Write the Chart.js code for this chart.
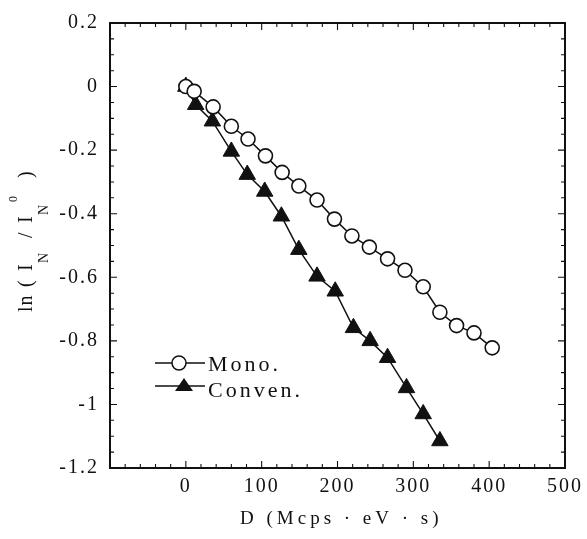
<!DOCTYPE html>
<html>
<head>
<meta charset="utf-8">
<script src="https://cdn.jsdelivr.net/npm/chart.js@4"></script>
<style>
  html, body { margin: 0; padding: 0; background: #fff; }
  #wrap { width: 587px; height: 539px; }
</style>
</head>
<body>
<div id="wrap"><canvas id="chart"></canvas></div>
<script>
// values
const monoX = [0, 11, 36, 60, 82, 105, 127, 149, 173, 196, 219, 242, 266, 289, 313, 335, 357, 380, 404];
const monoY = [0, -0.015, -0.064, -0.125, -0.165, -0.218, -0.27, -0.313, -0.357, -0.417, -0.47, -0.505, -0.542, -0.578, -0.63, -0.71, -0.752, -0.775, -0.822];
const convX = [0, 13, 35, 60, 81, 104, 126, 149, 173, 197, 221, 243, 266, 291, 313, 335];
const convY = [0, -0.057, -0.109, -0.204, -0.277, -0.33, -0.408, -0.513, -0.597, -0.644, -0.759, -0.80, -0.853, -0.948, -1.03, -1.115];
const seriesNames = ['Mono.', 'Conven.'];
const xTitle = 'D (Mcps \u00b7 eV \u00b7 s)';

const serif = '"Liberation Serif", "DejaVu Serif", serif';

function toPoints(xs, ys) {
    return xs.map((x, i) => ({ x: x, y: ys[i] }));
}

// the scan has loosely spaced type, so spread the tick labels a bit
const spacingPlugin = {
    id: 'spacing',
    beforeDraw(chart) { chart.ctx.letterSpacing = '2px'; },
    afterDraw(chart) { chart.ctx.letterSpacing = '0px'; }
};

// frame with inward ticks on all four sides
const framePlugin = {
    id: 'frame',
    afterDraw(chart) {
        const { ctx, chartArea: { left, right, top, bottom }, scales: { x, y } } = chart;
        ctx.save();
        ctx.strokeStyle = '#111';
        ctx.lineWidth = 2;
        ctx.strokeRect(left, top, right - left, bottom - top);
        ctx.lineWidth = 1.1;
        ctx.beginPath();
        for (let i = 0; i <= 30; i++) {
            const px = x.getPixelForValue(-100 + i * 20);
            const len = i % 5 === 0 ? 7 : 4;
            ctx.moveTo(px, bottom); ctx.lineTo(px, bottom - len);
            ctx.moveTo(px, top); ctx.lineTo(px, top + len);
        }
        for (let i = 0; i <= 28; i++) {
            const py = y.getPixelForValue(-1.2 + i * 0.05);
            const len = i % 4 === 0 ? 7 : 4;
            ctx.moveTo(left, py); ctx.lineTo(left + len, py);
            ctx.moveTo(right, py); ctx.lineTo(right - len, py);
        }
        ctx.stroke();
        ctx.restore();
    }
};

// legend inside the plot, x title and rotated y title with sub/superscripts
const textPlugin = {
    id: 'texts',
    afterDraw(chart) {
        const ctx = chart.ctx;
        ctx.save();
        ctx.strokeStyle = '#111';
        ctx.fillStyle = '#111';
        ctx.lineWidth = 1.5;
        ctx.textBaseline = 'alphabetic';
        ctx.textAlign = 'left';

        // legend: Mono.
        ctx.beginPath(); ctx.moveTo(155, 363); ctx.lineTo(205, 363); ctx.stroke();
        ctx.beginPath(); ctx.arc(179, 363, 7, 0, Math.PI * 2);
        ctx.fillStyle = '#fff'; ctx.fill(); ctx.stroke();
        ctx.fillStyle = '#111';
        ctx.font = '22px ' + serif;
        ctx.letterSpacing = '3px';
        ctx.fillText(seriesNames[0], 208, 371);

        // legend: Conven.
        ctx.beginPath(); ctx.moveTo(155, 386); ctx.lineTo(205, 386); ctx.stroke();
        ctx.beginPath();
        ctx.moveTo(184, 378); ctx.lineTo(193, 391); ctx.lineTo(175, 391); ctx.closePath();
        ctx.fill();
        ctx.fillText(seriesNames[1], 208, 397);

        // x title
        ctx.font = '19px ' + serif;
        ctx.letterSpacing = '4px';
        ctx.fillText(xTitle, 240, 524);

        // y title, laid out along the rotated baseline
        ctx.letterSpacing = '1px';
        ctx.translate(32, 312);
        ctx.rotate(-Math.PI / 2);
        const big = '20px ' + serif, sub = '14px ' + serif, sup = '12px ' + serif;
        const parts = [
            ['ln', big, 0, 0],
            ['(', big, 25, 0],
            ['I', big, 41, 0],
            ['N', sub, 49, 16],
            ['/', big, 74, 0],
            ['I', big, 89, 0],
            ['N', sub, 97, 16],
            ['0', sup, 110, -15],
            [')', big, 134, 0]
        ];
        parts.forEach(p => {
            ctx.font = p[1];
            ctx.fillText(p[0], p[2], p[3]);
        });
        ctx.restore();
    }
};

new Chart(document.getElementById('chart'), {
    type: 'scatter',
    data: {
        datasets: [{
            label: seriesNames[0],
            data: toPoints(monoX, monoY),
            showLine: true,
            borderColor: '#111',
            borderWidth: 1.5,
            pointStyle: 'circle',
            pointRadius: 7,
            pointBorderWidth: 1.6,
            pointBackgroundColor: '#fff',
            pointBorderColor: '#111'
        }, {
            label: seriesNames[1],
            data: toPoints(convX, convY),
            showLine: true,
            borderColor: '#111',
            borderWidth: 1.5,
            pointStyle: 'triangle',
            pointRadius: 9.5,
            pointBorderWidth: 1,
            pointBackgroundColor: '#111',
            pointBorderColor: '#111'
        }]
    },
    options: {
        responsive: true,
        maintainAspectRatio: false,
        animation: false,
        layout: { padding: { left: 0, right: 20, top: 23, bottom: 0 } },
        plugins: {
            legend: { display: false },
            tooltip: { enabled: false }
        },
        scales: {
            x: {
                type: 'linear',
                min: -100,
                max: 500,
                afterFit: s => { s.height = 71; },
                grid: { display: false, drawTicks: false },
                border: { display: false },
                ticks: {
                    stepSize: 100,
                    padding: 7,
                    maxRotation: 0,
                    color: '#111',
                    font: { family: serif, size: 20 },
                    callback: v => v < 0 ? null : v
                }
            },
            y: {
                type: 'linear',
                min: -1.2,
                max: 0.2,
                afterFit: s => { s.width = 110; },
                grid: { display: false, drawTicks: false },
                border: { display: false },
                ticks: {
                    stepSize: 0.2,
                    padding: 11,
                    color: '#111',
                    font: { family: serif, size: 20 },
                    callback: v => String(Math.round(v * 10) / 10)
                }
            }
        }
    },
    plugins: [spacingPlugin, framePlugin, textPlugin]
});
</script>
</body>
</html>
